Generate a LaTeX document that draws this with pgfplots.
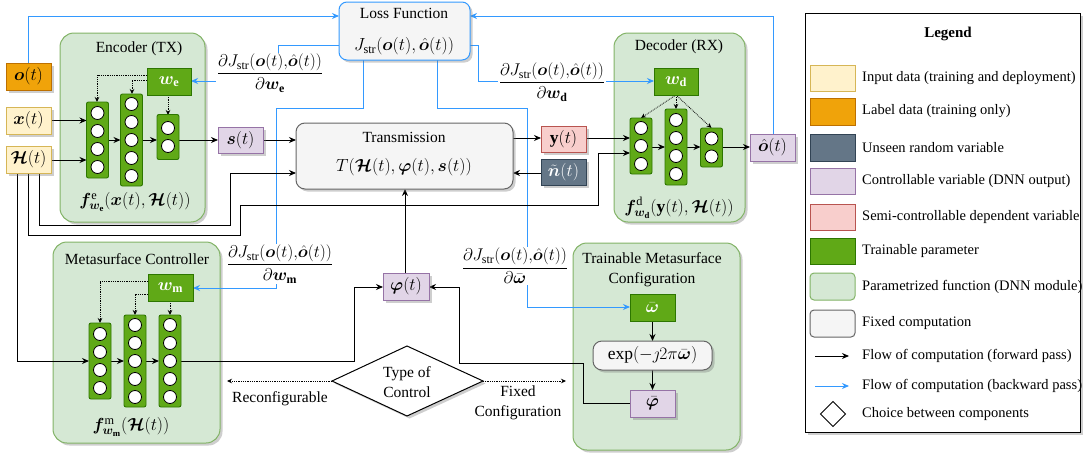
\RequirePackage{fix-cm}
\documentclass[border=0pt]{standalone}
\usepackage{fontspec}
\setmainfont{Liberation Serif}
\usepackage{amsmath,bm}
\usepackage{pgfplots}
\pgfplotsset{compat=1.18}
\usetikzlibrary{arrows.meta,shadows}
\definecolor{yfill}{HTML}{FFF2CC}\definecolor{ydraw}{HTML}{D6B656}
\definecolor{ofill}{HTML}{F0A30A}\definecolor{odraw}{HTML}{BD7000}
\definecolor{sfill}{HTML}{647687}\definecolor{sdraw}{HTML}{314354}
\definecolor{pfill}{HTML}{E1D5E7}\definecolor{pdraw}{HTML}{9673A6}
\definecolor{rfill}{HTML}{F8CECC}\definecolor{rdraw}{HTML}{B85450}
\definecolor{gfill}{HTML}{60A917}\definecolor{gdraw}{HTML}{2D7600}
\definecolor{lfill}{HTML}{D5E8D4}\definecolor{ldraw}{HTML}{82B366}
\definecolor{xfill}{HTML}{F5F5F5}\definecolor{xdraw}{HTML}{666666}
\definecolor{cblue}{HTML}{3399FF}
\newcommand{\dfont}{\fontsize{15.5}{20}\selectfont}
\newcommand{\mfont}{\fontsize{17.5}{20}\selectfont}
\newcommand{\lfont}{\fontsize{14.5}{17}\selectfont}
\newcommand{\ffont}{\fontsize{17}{19}\selectfont}
\tikzset{
 shd/.style={drop shadow={shadow xshift=2.5pt,shadow yshift=-2.5pt,opacity=0.35,fill=black!55}},
 fw/.style={-{Stealth[length=7pt,width=6pt]},line width=1pt,black},
 bw/.style={-{Stealth[length=7pt,width=6pt]},line width=1pt,cblue},
 dt/.style={-{Stealth[length=5pt,width=4.5pt]},densely dotted,line width=0.8pt},
 mod/.style={fill=lfill,draw=ldraw,line width=1pt,rounded corners=14pt,shd},
 par/.style={fill=gfill,draw=gdraw,line width=1pt},
 yb/.style={fill=yfill,draw=ydraw,line width=1pt,shd},
 ob/.style={fill=ofill,draw=odraw,line width=1pt,shd},
 sb/.style={fill=sfill,draw=sdraw,line width=1pt,shd},
 pb/.style={fill=pfill,draw=pdraw,line width=1pt,shd},
 rb/.style={fill=rfill,draw=rdraw,line width=1pt,shd},
 xb/.style={fill=xfill,draw=xdraw,line width=1pt,rounded corners=9pt,shd},
}
\newcommand{\bx}[5]{\draw[#5] (axis cs:#1,#2) rectangle (axis cs:#3,#4);}
\newcommand{\tx}[3]{\node[font=\dfont,inner sep=0pt,align=center] at (axis cs:#1,#2) {#3};}
\newcommand{\mtx}[3]{\node[font=\mfont,inner sep=0pt] at (axis cs:#1,#2) {#3};}
\newcommand{\wtx}[3]{\node[font=\mfont,text=white,inner sep=0pt] at (axis cs:#1,#2) {#3};}
\newcommand{\ltx}[2]{\node[font=\lfont,anchor=west,inner sep=0pt] at (axis cs:862,#1) {#2};}
\newcommand{\frc}[3]{\node[font=\ffont,fill=white,inner sep=1pt] at (axis cs:#1,#2) {#3};}
\newcommand{\cc}[2]{\draw[fill=white,line width=0.8pt] (axis cs:#1,{#2}) circle[radius=6.5pt];}
\newcommand{\nn}[4]{%
 \draw[fill=gfill,draw=gdraw,line width=0.9pt,rounded corners=2pt] (axis cs:{#1-11},{#2-#4/2}) rectangle (axis cs:{#1+11},{#2+#4/2});
 \ifcase#3\or\cc{#1}{#2}\or\cc{#1}{#2-9}\cc{#1}{#2+9}\or\cc{#1}{#2-18}\cc{#1}{#2}\cc{#1}{#2+18}\or\cc{#1}{#2-27}\cc{#1}{#2-9}\cc{#1}{#2+9}\cc{#1}{#2+27}\or\cc{#1}{#2-36}\cc{#1}{#2-18}\cc{#1}{#2}\cc{#1}{#2+18}\cc{#1}{#2+36}\fi}
\newcommand{\dJ}{\partial J_{\mathrm{str}}(\bm{o}(t){,}\hat{\bm{o}}(t))}
\begin{document}
\begin{tikzpicture}
\begin{axis}[hide axis,scale only axis,width=1084pt,height=458pt,
 xmin=0,xmax=1084,ymin=0,ymax=458,y dir=reverse,clip=false]
\path (axis cs:0,0) rectangle (axis cs:1084,458);
% modules
\bx{60}{33}{205}{222}{mod}
\bx{614}{33}{745}{222}{mod}
\bx{53}{242}{220}{443}{mod}
\bx{573}{243}{740}{450}{mod}
\tx{139}{49}{Encoder (TX)}
\tx{679}{47}{Decoder (RX)}
\tx{137}{259}{Metasurface Controller}
\tx{652}{270}{Trainable Metasurface\\Configuration}
% blue backward lines
\draw[bw] (axis cs:28,63) -- (axis cs:28,16) -- (axis cs:339,16);
\draw[bw] (axis cs:773,134) -- (axis cs:773,16) -- (axis cs:470,16);
\draw[bw] (axis cs:339,45) -- (axis cs:278,45) -- (axis cs:278,81) -- (axis cs:191,81);
\draw[bw] (axis cs:363,60) -- (axis cs:363,108) -- (axis cs:276,108) -- (axis cs:276,288) -- (axis cs:193,288);
\draw[bw] (axis cs:437,60) -- (axis cs:437,108) -- (axis cs:527,108) -- (axis cs:527,307) -- (axis cs:630,307);
\draw[bw] (axis cs:470,45) -- (axis cs:478,45) -- (axis cs:478,81) -- (axis cs:654,81);
\frc{270}{73}{$\dfrac{\dJ}{\partial\bm{w}_{\mathbf{e}}}$}
\frc{280}{264}{$\dfrac{\dJ}{\partial\bm{w}_{\mathbf{m}}}$}
\frc{515}{266}{$\dfrac{\dJ}{\partial\bar{\bm{\omega}}}$}
\frc{552}{82}{$\dfrac{\dJ}{\partial\bm{w}_{\mathbf{d}}}$}
% black forward lines
\draw[fw] (axis cs:39,173) -- (axis cs:39,225) -- (axis cs:230,225) -- (axis cs:230,173) -- (axis cs:296,173);
\draw[fw] (axis cs:28,173) -- (axis cs:28,235) -- (axis cs:240,235) -- (axis cs:240,205) -- (axis cs:598,205) -- (axis cs:598,153) -- (axis cs:630,153);
\draw[fw] (axis cs:17,173) -- (axis cs:17,361) -- (axis cs:89,361);
\draw[fw] (axis cs:51,120.5) -- (axis cs:86.5,120.5);
\draw[fw] (axis cs:51,160) -- (axis cs:86.5,160);
\draw[fw] (axis cs:108.5,140) -- (axis cs:120.5,140);
\draw[fw] (axis cs:142.5,140) -- (axis cs:157,140);
\draw[fw] (axis cs:179,140) -- (axis cs:218,140);
\draw[fw] (axis cs:263,140) -- (axis cs:296,140);
\draw[fw] (axis cs:513,138) -- (axis cs:541,138);
\draw[fw] (axis cs:541,173) -- (axis cs:513,173);
\draw[fw] (axis cs:586,138) -- (axis cs:630,138);
\draw[fw] (axis cs:652,147) -- (axis cs:665,147);
\draw[fw] (axis cs:687,147) -- (axis cs:700.5,147);
\draw[fw] (axis cs:722.5,147) -- (axis cs:750,147);
\draw[fw] (axis cs:111,361) -- (axis cs:124,361);
\draw[fw] (axis cs:146,361) -- (axis cs:159,361);
\draw[fw] (axis cs:181,361) -- (axis cs:354,361) -- (axis cs:354,287) -- (axis cs:383,287);
\draw[fw] (axis cs:630,403) -- (axis cs:583,403) -- (axis cs:583,363) -- (axis cs:459,363) -- (axis cs:459,287) -- (axis cs:429,287);
\draw[fw] (axis cs:405,273) -- (axis cs:405,189);
\draw[fw] (axis cs:652.5,321) -- (axis cs:652.5,341);
\draw[fw] (axis cs:652.5,370) -- (axis cs:652.5,390);
% dotted parameter arrows
\draw[dt] (axis cs:147,75) -- (axis cs:97,75) -- (axis cs:97,102);
\draw[dt] (axis cs:147,80) -- (axis cs:132,80) -- (axis cs:132,94);
\draw[dt] (axis cs:168,95) -- (axis cs:168,115);
\draw[dt] (axis cs:676,95) -- (axis cs:641,118);
\draw[dt] (axis cs:676,95) -- (axis cs:676,109);
\draw[dt] (axis cs:676,95) -- (axis cs:711.5,128);
\draw[dt] (axis cs:148,281) -- (axis cs:100,281) -- (axis cs:100,323);
\draw[dt] (axis cs:148,294) -- (axis cs:135,294) -- (axis cs:135,315);
\draw[dt] (axis cs:170,301) -- (axis cs:170,315);
\draw[dt] (axis cs:332,381) -- (axis cs:227,381);
\draw[dt] (axis cs:483,381) -- (axis cs:566,381);
% neural layers
\nn{97.5}{140}{4}{76}
\nn{131.5}{140}{5}{92}
\nn{168}{137}{2}{45}
\nn{641}{146}{3}{56}
\nn{676}{147}{4}{76}
\nn{711.5}{147.5}{2}{39}
\nn{100}{361}{4}{76}
\nn{135}{361}{5}{92}
\nn{170}{361}{5}{92}
% parameter boxes
\bx{147}{68}{191}{95}{par}\wtx{169}{81.5}{$\bm{w}_{\mathbf{e}}$}
\bx{654}{68}{698}{95}{par}\wtx{676}{81.5}{$\bm{w}_{\mathbf{d}}$}
\bx{148}{274}{193}{301}{par}\wtx{170.5}{287.5}{$\bm{w}_{\mathbf{m}}$}
\bx{630}{294}{675}{321}{par}\wtx{652.5}{307.5}{$\bar{\bm{\omega}}$}
% variable boxes
\bx{6}{63}{51}{90}{ob}\mtx{28.5}{76.5}{$\bm{o}(t)$}
\bx{6}{107}{51}{134}{yb}\mtx{28.5}{120.5}{$\bm{x}(t)$}
\bx{6}{146}{51}{173}{yb}\mtx{28.5}{159.5}{$\bm{\mathcal{H}}(t)$}
\bx{218}{127}{263}{153}{pb}\mtx{240.5}{140}{$\bm{s}(t)$}
\bx{541}{126}{586}{152}{rb}\mtx{563.5}{139}{$\mathbf{y}(t)$}
\bx{541}{159}{586}{185}{sb}\wtx{563.5}{172}{$\tilde{\bm{n}}(t)$}
\bx{750}{134}{795}{161}{pb}\mtx{772.5}{147.5}{$\hat{\bm{o}}(t)$}
\bx{383}{273}{429}{300}{pb}\mtx{406}{286.5}{$\bm{\varphi}(t)$}
\bx{630}{390}{675}{417}{pb}\mtx{652.5}{403.5}{$\bar{\bm{\varphi}}$}
% fixed computations
\draw[fill=xfill,draw=cblue,line width=1pt,rounded corners=8pt,shd] (axis cs:339,2) rectangle (axis cs:470,60);
\tx{404}{13}{Loss Function}
\mtx{404}{46}{$J_{\mathrm{str}}(\bm{o}(t),\hat{\bm{o}}(t))$}
\bx{296}{123}{513}{189}{xb}
\tx{404}{137}{Transmission}
\mtx{404}{167}{$T(\bm{\mathcal{H}}(t),\bm{\varphi}(t),\bm{s}(t))$}
\bx{593}{341}{712}{370}{xb}
\mtx{652.5}{355.5}{$\exp(-\jmath 2\pi\bar{\bm{\omega}})$}
% function labels
\mtx{135}{202}{$\bm{f}^{\mathrm{e}}_{\bm{w}_{\mathbf{e}}}(\bm{x}(t),\bm{\mathcal{H}}(t))$}
\mtx{679}{208}{$\bm{f}^{\mathrm{d}}_{\bm{w}_{\mathbf{d}}}(\mathbf{y}(t),\bm{\mathcal{H}}(t))$}
\mtx{131}{427}{$\bm{f}^{\mathrm{m}}_{\bm{w}_{\mathbf{m}}}(\bm{\mathcal{H}}(t))$}
% diamond
\draw[fill=white,draw=black,line width=1pt,shd] (axis cs:332,381) -- (axis cs:407,346) -- (axis cs:483,381) -- (axis cs:407,416) -- cycle;
\tx{407}{382}{Type of\\Control}
\tx{280}{399}{Reconfigurable}
\tx{518}{403}{Fixed\\Configuration}
% legend
\draw[fill=white,draw=black,line width=1pt,shd] (axis cs:805,13) rectangle (axis cs:1080,432);
\node[font=\fontsize{15}{17}\selectfont\bfseries,inner sep=0pt] at (axis cs:948,34) {Legend};
\bx{810}{65}{855}{91}{fill=yfill,draw=ydraw,line width=1pt}
\bx{810}{98}{855}{125}{fill=ofill,draw=odraw,line width=1pt}
\bx{810}{134}{855}{161}{fill=sfill,draw=sdraw,line width=1pt}
\bx{810}{168}{855}{194}{fill=pfill,draw=pdraw,line width=1pt}
\bx{810}{204}{855}{230}{fill=rfill,draw=rdraw,line width=1pt}
\bx{810}{238}{855}{264}{fill=gfill,draw=gdraw,line width=1pt}
\bx{810}{273}{855}{300}{fill=lfill,draw=ldraw,line width=1pt,rounded corners=4pt}
\bx{810}{310}{855}{337}{fill=xfill,draw=xdraw,line width=1pt,rounded corners=4pt}
\draw[fw] (axis cs:815,356) -- (axis cs:849,356);
\draw[bw] (axis cs:815,386) -- (axis cs:849,386);
\draw[fill=white,draw=black,line width=1pt] (axis cs:820.5,414) -- (axis cs:833,401.5) -- (axis cs:845.5,414) -- (axis cs:833,426.5) -- cycle;
\ltx{78}{Input data (training and deployment)}
\ltx{111.5}{Label data (training only)}
\ltx{147.5}{Unseen random variable}
\ltx{181}{Controllable variable (DNN output)}
\ltx{217}{Semi-controllable dependent variable}
\ltx{251}{Trainable parameter}
\ltx{286.5}{Parametrized function (DNN module)}
\ltx{323.5}{Fixed computation}
\ltx{356}{Flow of computation (forward pass)}
\ltx{386}{Flow of computation (backward pass)}
\ltx{414}{Choice between components}
\end{axis}
\end{tikzpicture}
\end{document}
